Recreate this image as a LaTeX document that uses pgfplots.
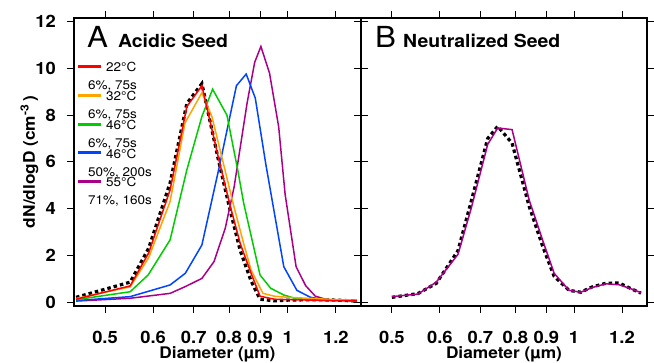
\documentclass[border=0pt]{standalone}
\usepackage{fontspec}
\setmainfont{TeX Gyre Heros}[FakeStretch=1.08]
\usepackage{pgfplots}
\pgfplotsset{compat=1.18}
\definecolor{cred}{RGB}{255,0,0}
\definecolor{corange}{RGB}{255,165,0}
\definecolor{cgreen}{RGB}{0,204,0}
\definecolor{cblue}{RGB}{0,68,255}
\definecolor{cmag}{RGB}{170,0,136}
\pgfplotsset{
  panel/.style={
    scale only axis, width=287pt, height=288pt,
    xmin=0.4445, xmax=1.32, ymin=-0.171, ymax=12.158,
    xtick={0.5,0.6,0.7,0.8,0.9,1,1.2},
    xticklabels={0.5,0.6,0.7,0.8,0.9,1,1.2},
    xminorticks=false, yminorticks=false,
    ytick={0,2,4,6,8,10,12},
    xtick pos=both, ytick pos=both, tick align=outside,
    major tick length=7pt,
    every tick/.style={black, line width=0.9pt},
    axis line style={line width=1.1pt},
    /pgf/number format/assume math mode=true,
    ticklabel style={font=\bfseries\fontsize{17}{17}\selectfont},
    xticklabel style={anchor=base, yshift=-30.5pt},
    yticklabel style={anchor=east, inner sep=0pt, xshift=-11pt},
    xlabel={\bfseries\fontsize{16}{16}\selectfont Diameter (µm)},
    xlabel style={at={(axis description cs:0.5,-0.1806)}, anchor=base},
  },
}
\begin{document}
\begin{tikzpicture}
\useasboundingbox (0,0) rectangle (654pt,-362pt);
\begin{axis}[xmode=log, panel, at={(74pt,-306pt)}, anchor=south west,
  ylabel={\bfseries\fontsize{16}{16}\selectfont dN/dlogD (cm\textsuperscript{-3}\,)},
  ylabel style={at={(axis description cs:-0.136,0.5)}, anchor=base},
  reverse legend, legend cell align=left,
  legend image code/.code={\draw[#1, line width=3pt, overlay] (-10pt,10.2pt) -- (13pt,10.2pt);},
  legend style={draw=none, fill=none, inner sep=0pt,
    at={(0.0488,0.847)}, anchor=north west,
    nodes={inner sep=0pt, align=left, font=\fontsize{12.5}{18}\selectfont}},
]
\addplot[black, line width=3.2pt, dash pattern=on 3.5pt off 3pt, forget plot] coordinates {
(0.448,0.2)(0.55,0.85)(0.59,2.3)(0.64,5.1)(0.682,8.5)(0.722,9.35)(0.77,6.0)(0.804,3.9)(0.835,2.2)(0.87,0.9)(0.90,0.12)(0.95,0.05)(1.0,0.08)(1.1,0.1)(1.2,0.08)(1.3,0.04)};
\addplot[cmag, line width=1.5pt] coordinates {
(0.448,0.04)(0.55,0.16)(0.64,0.37)(0.678,0.66)(0.722,1.01)(0.756,1.73)(0.789,3.16)(0.816,4.94)(0.857,8.52)(0.882,10.26)(0.903,10.94)(0.933,9.8)(0.966,7.5)(0.99,4.6)(1.032,1.51)(1.07,0.7)(1.11,0.25)(1.16,0.1)(1.25,0.08)(1.3,0.08)};
\addlegendentry{\hspace*{18pt}55°C\\71\%, 160s}
\addplot[cblue, line width=1.5pt] coordinates {
(0.448,0.06)(0.55,0.23)(0.64,0.73)(0.678,1.23)(0.722,2.44)(0.77,5.7)(0.823,9.26)(0.854,9.76)(0.884,8.73)(0.92,5.9)(0.985,1.51)(1.035,0.5)(1.09,0.2)(1.15,0.1)(1.2,0.08)(1.3,0.05)};
\addlegendentry{\hspace*{18pt}46°C\\50\%, 200s}
\addplot[cgreen, line width=1.5pt] coordinates {
(0.448,0.1)(0.55,0.44)(0.589,1.16)(0.64,2.66)(0.682,5.66)(0.722,7.94)(0.752,9.11)(0.794,8.0)(0.827,5.66)(0.846,4.23)(0.90,1.16)(0.937,0.59)(0.985,0.3)(1.03,0.15)(1.1,0.08)(1.2,0.06)(1.3,0.05)};
\addlegendentry{\hspace*{18pt}46°C\\6\%, 75s}
\addplot[corange, line width=1.5pt] coordinates {
(0.448,0.15)(0.55,0.65)(0.59,1.9)(0.64,4.3)(0.677,7.66)(0.722,8.96)(0.75,7.94)(0.815,4.1)(0.846,2.5)(0.87,1.37)(0.91,0.37)(0.95,0.25)(1.0,0.2)(1.1,0.15)(1.2,0.1)(1.3,0.08)};
\addlegendentry{\hspace*{18pt}32°C\\6\%, 75s}
\addplot[cred, line width=1.5pt] coordinates {
(0.448,0.12)(0.55,0.69)(0.59,2.1)(0.64,4.8)(0.682,8.37)(0.722,9.26)(0.77,6.1)(0.804,4.1)(0.835,2.5)(0.87,1.23)(0.90,0.25)(0.95,0.12)(1.0,0.1)(1.1,0.08)(1.2,0.06)(1.3,0.05)};
\addlegendentry{\hspace*{18pt}22°C\\6\%, 75s}
\node[anchor=base west, inner sep=0pt, font=\fontsize{29}{29}\selectfont] at (rel axis cs:0.0453,0.896) {A};
\node[anchor=base west, inner sep=0pt, font=\bfseries\fontsize{18}{18}\selectfont] at (rel axis cs:0.1533,0.896) {Acidic Seed};
\end{axis}
\begin{axis}[xmode=log, panel, at={(361pt,-306pt)}, anchor=south west, width=286pt, yticklabels={}]
\addplot[black, line width=3.2pt, dash pattern=on 3.5pt off 3pt] coordinates {
(0.50,0.20)(0.552,0.36)(0.592,0.80)(0.643,2.2)(0.676,4.3)(0.720,7.0)(0.748,7.52)(0.790,6.8)(0.843,4.1)(0.887,2.4)(0.927,1.1)(0.981,0.5)(1.026,0.42)(1.072,0.65)(1.128,0.80)(1.186,0.82)(1.247,0.55)(1.29,0.38)};
\addplot[cmag, line width=1.5pt] coordinates {
(0.50,0.23)(0.552,0.34)(0.592,0.85)(0.643,2.04)(0.676,4.0)(0.720,6.75)(0.748,7.45)(0.790,7.38)(0.843,4.37)(0.887,2.66)(0.927,1.23)(0.981,0.5)(1.026,0.42)(1.072,0.62)(1.128,0.78)(1.186,0.74)(1.247,0.55)(1.29,0.40)};
\node[anchor=base west, inner sep=0pt, font=\fontsize{29}{29}\selectfont] at (rel axis cs:0.049,0.899) {B};
\node[anchor=base west, inner sep=0pt, font=\bfseries\fontsize{18}{18}\selectfont] at (rel axis cs:0.1469,0.899) {Neutralized Seed};
\end{axis}
\end{tikzpicture}
\end{document}
